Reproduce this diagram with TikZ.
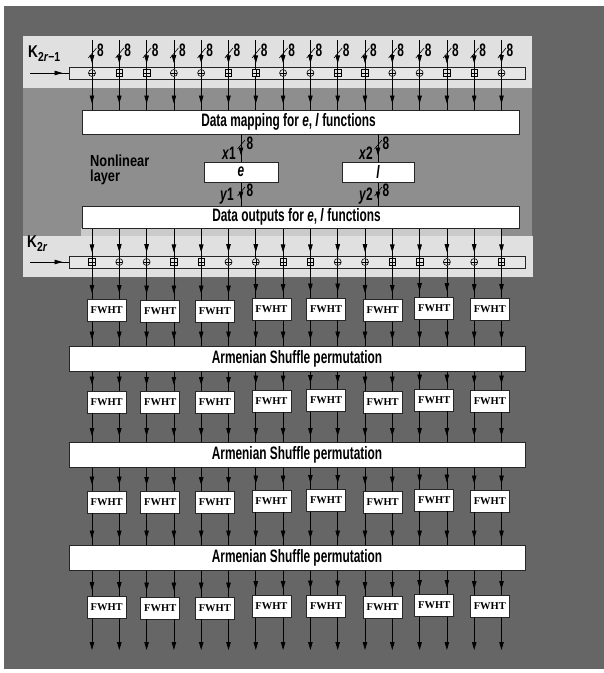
\documentclass[tikz,border=0pt]{standalone}
\usepackage{fontspec}
\setmainfont{Liberation Sans}
\newfontfamily\cond[FakeStretch=0.66]{Liberation Sans}
\newfontfamily\condb[FakeStretch=0.8]{Liberation Sans}
\newfontfamily\fw{Liberation Serif}
\usetikzlibrary{arrows.meta,decorations.markings,calc}
\definecolor{outerg}{HTML}{666666}
\definecolor{midg}{HTML}{8E8E8E}
\definecolor{bandg}{HTML}{E0E0E0}
\definecolor{stripg}{HTML}{CBCBCB}
\definecolor{rowf}{HTML}{E6E6E6}
\begin{document}
\begin{tikzpicture}[x=1pt,y=-1pt,
  wire/.style={line width=0.8pt, postaction={decorate},
    decoration={markings, mark=at position -6pt with {\arrow{Triangle[width=4.5pt,length=8pt]}}}},
  endwire/.style={line width=0.8pt, -{Triangle[width=4.5pt,length=8pt]}},
  lab/.style={font=\cond\bfseries\fontsize{18}{20}\selectfont, inner sep=0pt},
  whitebox/.style={draw=black!85, line width=1pt, fill=white, inner sep=0pt},
  rowbox/.style={draw=black!85, line width=0.9pt, fill=rowf, minimum width=456pt, minimum height=12pt, inner sep=0pt},
  xo/.style={circle, draw=black, line width=0.6pt, fill=rowf, inner sep=0pt, minimum size=7pt,
    path picture={\draw[line width=0.5pt] (path picture bounding box.north) -- (path picture bounding box.south)
      (path picture bounding box.west) -- (path picture bounding box.east);}},
  ad/.style={rectangle, draw=black, line width=0.6pt, fill=rowf, inner sep=0pt, minimum size=6.5pt,
    path picture={\draw[line width=0.5pt] (path picture bounding box.north) -- (path picture bounding box.south)
      (path picture bounding box.west) -- (path picture bounding box.east);}},
  fwht/.style={draw=black!85, line width=0.9pt, fill=white, minimum width=39pt, minimum height=22pt,
    inner sep=0pt, font=\fw\bfseries\fontsize{10.5}{13}\selectfont},
  bar/.style={whitebox, minimum width=456pt, minimum height=25pt, lab}
]
\useasboundingbox (0,0) rectangle (604,673);
\fill[white] (0,0) rectangle (604,673);
\fill[outerg] (4,6) rectangle (604,669);
\fill[midg] (23,88) rectangle (532,236);
\fill[bandg] (23,36) rectangle (532,88);
\fill[bandg] (23,236) rectangle (533,277);
\fill[stripg] (81,228) rectangle (502,236);

% row boxes
\node[rowbox] (r1) at (297,73) {};
\node[rowbox] (r2) at (297,262) {};

% big boxes
\node[whitebox, minimum width=437pt, minimum height=24pt, lab] (dm) at (300.5,122)
  {\hspace*{-24pt}Data mapping for \textit{e}, \textit{l} functions};
\node[whitebox, minimum width=437pt, minimum height=22pt, lab] (do) at (300.5,217)
  {\hspace*{-8pt}Data outputs for \textit{e}, \textit{l} functions};
\node[whitebox, minimum width=74pt, minimum height=20pt, lab] (efun) at (241,172) {\textit{e}};
\node[whitebox, minimum width=72pt, minimum height=20pt, lab] (lfun) at (378,172) {\textit{l}};

\node[bar] (s1) at (297,358.5) {Armenian Shuffle permutation};
\node[bar] (s2) at (297,455) {Armenian Shuffle permutation};
\node[bar] (s3) at (297,557.5) {Armenian Shuffle permutation};

% labels
\node[lab, anchor=west, font=\condb\bfseries\fontsize{17}{18}\selectfont] (k1) at (28,54) {K\raisebox{-4pt}{\fontsize{13}{13}\selectfont 2\textit{r}−1}};
\node[lab, anchor=west, font=\condb\bfseries\fontsize{17}{18}\selectfont] (k2) at (27,244) {K\raisebox{-4pt}{\fontsize{13}{13}\selectfont 2\textit{r}}};
\node[lab, anchor=west, align=left, font=\condb\bfseries\fontsize{16}{15}\selectfont] (nl) at (90,170) {Nonlinear\\layer};
\coordinate (k1s) at (30,73);
\coordinate (k2s) at (30,262);
\draw[wire] (k1s) -- (r1.west);
\draw[wire] (k2s) -- (r2.west);

% FWHT boxes
\foreach \k/\yy in {1/310.5,2/402,3/502,4/607.5}{
  \foreach \j/\dx/\dy in {0/1/0,1/0/0.5,2/0/0.5,3/2/-1,4/2/-1.5,5/4/0,6/1/-2,7/2/-1}{
    \pgfmathsetmacro\cx{92+27.3*(2*\j+0.5)}
    \node[fwht] (f\k\j) at (\cx+\dx,\yy+\dy) {FWHT};
  }
}

% wires
\foreach \i in {0,...,15}{
  \pgfmathsetmacro\xx{92+27.3*\i}
  \pgfmathtruncatemacro\m{mod(\i,4)}
  \pgfmathtruncatemacro\j{\i/2}
  \coordinate (w\i) at (\xx,0);
  \coordinate (t\i) at (\xx,40);
  \coordinate (z\i) at (\xx,650);
  \ifnum\m=0 \def\ta{xo}\def\tb{ad}\else\ifnum\m=3 \def\ta{xo}\def\tb{ad}\else\def\ta{ad}\def\tb{xo}\fi\fi
  \node[\ta] (a\i) at (\xx,73) {};
  \node[\tb] (b\i) at (\xx,262) {};
  \draw[wire] (t\i) -- (a\i);
  \draw[line width=0.6pt] (\xx-3.7,58) -- (\xx+4.5,48);
  \node[lab] (n\i) at (\xx+8.5,50) {8};
  \draw[wire] (a\i) -- (a\i |- dm.north);
  \draw[wire] (b\i |- do.south) -- (b\i);
  \draw[wire] (b\i) -- (b\i |- f1\j.north);
  \draw[wire] (w\i |- f1\j.south) -- (w\i |- s1.north);
  \draw[wire] (w\i |- s1.south) -- (w\i |- f2\j.north);
  \draw[wire] (w\i |- f2\j.south) -- (w\i |- s2.north);
  \draw[wire] (w\i |- s2.south) -- (w\i |- f3\j.north);
  \draw[wire] (w\i |- f3\j.south) -- (w\i |- s3.north);
  \draw[wire] (w\i |- s3.south) -- (w\i |- f4\j.north);
  \draw[endwire] (w\i |- f4\j.south) -- (z\i);
}

% nonlinear functions wires
\draw[wire] (dm.south -| efun) -- (efun.north);
\draw[wire] (efun.south) -- (efun.south |- do.north);
\draw[wire] (dm.south -| lfun) -- (lfun.north);
\draw[wire] (lfun.south) -- (lfun.south |- do.north);
\draw[line width=0.6pt] (237.5,149) -- (245,140);
\draw[line width=0.6pt] (237.5,196) -- (245,187);
\draw[line width=0.6pt] (374.5,149) -- (382,140);
\draw[line width=0.6pt] (374.5,196) -- (382,187);
\node[lab] (e8a) at (250,143) {8};
\node[lab] (e8b) at (250,190) {8};
\node[lab] (l8a) at (386,143) {8};
\node[lab] (l8b) at (386,190) {8};
\node[lab, anchor=east] (x1) at (236,153) {\textit{x}1};
\node[lab, anchor=east] (y1) at (234,196) {\textit{y}1};
\node[lab, anchor=east] (x2) at (373,153) {\textit{x}2};
\node[lab, anchor=east] (y2) at (373,196) {\textit{y}2};
\end{tikzpicture}
\end{document}
